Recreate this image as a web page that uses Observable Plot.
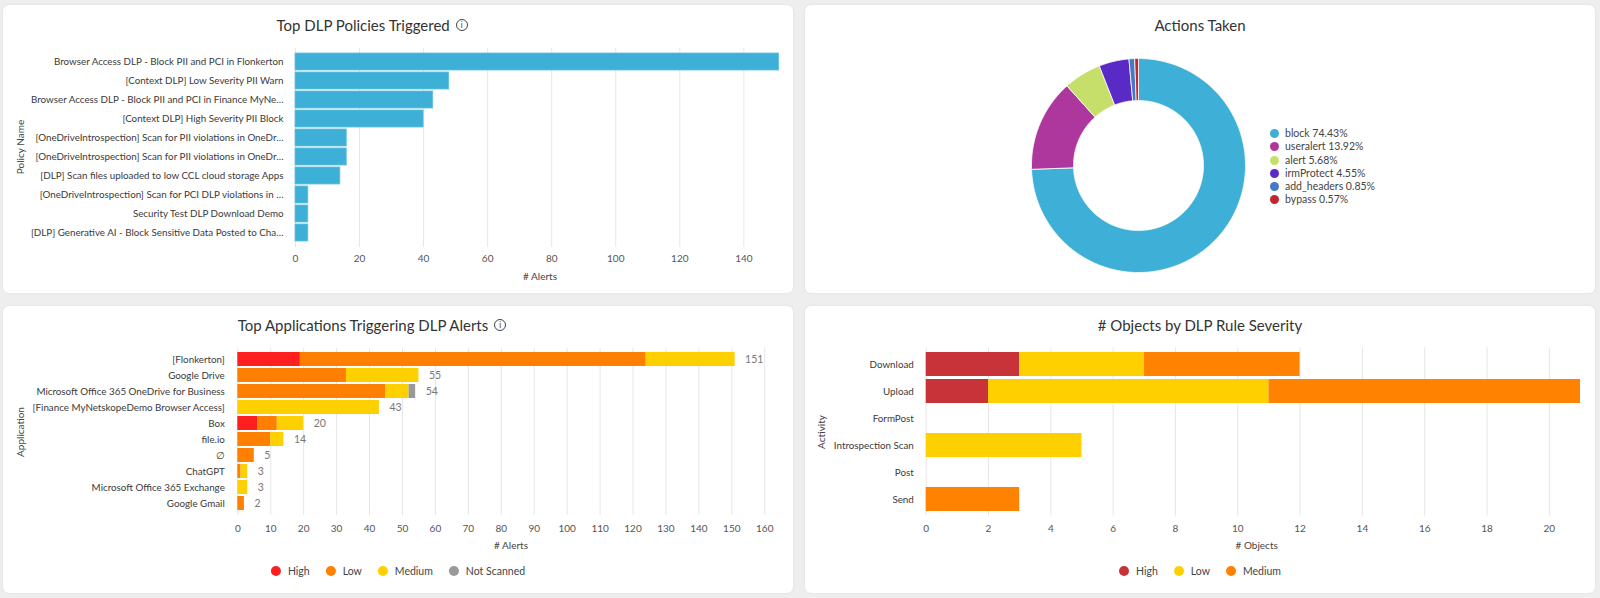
<!DOCTYPE html>
<html>
<head>
<meta charset="utf-8">
<script src="https://cdn.jsdelivr.net/npm/d3@7"></script>
<script src="https://cdn.jsdelivr.net/npm/@observablehq/plot@0.6"></script>
<style>
html,body{margin:0;padding:0}
body{width:1600px;height:598px;background:#eeeeee;position:relative;overflow:hidden;font-family:Lato,"Open Sans",sans-serif;color:#333}
.card{position:absolute;background:#fff;border-radius:6px;box-shadow:0 0 3px rgba(0,0,0,0.07)}
.abs{position:absolute;white-space:nowrap}
.title{font-size:15px;line-height:18px;color:#333;display:flex;align-items:center}
.info{display:inline-block;box-sizing:border-box;width:12px;height:12px;border:1.1px solid #444;border-radius:50%;font-size:8.5px;line-height:10px;text-align:center;margin-left:6px;color:#444;font-family:"DejaVu Sans",sans-serif}
.axlab{font-size:10px;color:#444}
.legend{display:flex;gap:16px;font-size:10.5px;color:#444;align-items:center}
.legend .item{display:flex;align-items:center}
.sw{display:inline-block;width:10px;height:10px;border-radius:50%;margin-right:7px}
.dleg{font-size:10.5px;color:#444;line-height:13.2px}
.dleg .row{display:flex;align-items:center;height:13.2px}
.dleg .sw{width:9px;height:9px;margin-right:6.5px}
svg{position:absolute}
</style>
</head>
<body>
<div class="card" style="left:3px;top:5px;width:790px;height:288px"></div>
<div class="card" style="left:805px;top:5px;width:790px;height:288px"></div>
<div class="card" style="left:3px;top:306px;width:790px;height:287px"></div>
<div class="card" style="left:805px;top:306px;width:790px;height:287px"></div>
<script>
// ---------------- DATA ----------------
const policyNames = [
  "Browser Access DLP - Block PII and PCI in Flonkerton",
  "[Context DLP] Low Severity PII Warn",
  "Browser Access DLP - Block PII and PCI in Finance MyNe…",
  "[Context DLP] High Severity PII Block",
  "[OneDriveIntrospection] Scan for PII violations in OneDr…",
  "[OneDriveIntrospection] Scan for PII violations in OneDr…",
  "[DLP] Scan files uploaded to low CCL cloud storage Apps",
  "[OneDriveIntrospection] Scan for PCI DLP violations in …",
  "Security Test DLP Download Demo",
  "[DLP] Generative AI - Block Sensitive Data Posted to Cha…"
];
const policyAlerts = [151, 48, 43, 40, 16, 16, 14, 4, 4, 4];
const policyTicks = [0, 20, 40, 60, 80, 100, 120, 140];

const actionNames = ["block", "useralert", "alert", "irmProtect", "add_headers", "bypass"];
const actionShares = [74.43, 13.92, 5.68, 4.55, 0.85, 0.57];
const actionColors = ["#3eafd6", "#ad379c", "#c6df6b", "#5a2ac6", "#4479c4", "#c4262f"];

const appNames = [
  "[Flonkerton]", "Google Drive", "Microsoft Office 365 OneDrive for Business",
  "[Finance MyNetskopeDemo Browser Access]", "Box", "file.io", "∅", "ChatGPT",
  "Microsoft Office 365 Exchange", "Google Gmail"
];
const appSeverities = ["High", "Low", "Medium", "Not Scanned"];
const appHigh       = [19, 0, 0, 0, 6, 0, 0, 0, 0, 0];
const appLow        = [105, 33, 45, 0, 6, 10, 5, 1, 0, 2];
const appMedium     = [27, 22, 7, 43, 8, 4, 0, 2, 3, 0];
const appNotScanned = [0, 0, 2, 0, 0, 0, 0, 0, 0, 0];
const appColors = ["#ff1f1f", "#ff8000", "#ffd000", "#999999"];
const appTicks = [0, 10, 20, 30, 40, 50, 60, 70, 80, 90, 100, 110, 120, 130, 140, 150, 160];

const activities = ["Download", "Upload", "FormPost", "Introspection Scan", "Post", "Send"];
const objSeverities = ["High", "Low", "Medium"];
const objHigh   = [3, 2, 0, 0, 0, 0];
const objLow    = [4, 9, 0, 5, 0, 0];
const objMedium = [5, 10, 0, 0, 0, 3];
const objColors = ["#c8333a", "#ffd000", "#ff8300"];
const objTicks = [0, 2, 4, 6, 8, 10, 12, 14, 16, 18, 20];

// ---------------- helpers ----------------
function addEl(html, cls, x, y, anchor) {
  const el = document.createElement("div");
  el.className = "abs " + (cls || "");
  el.innerHTML = html;
  el.style.left = x + "px";
  el.style.top = y + "px";
  el.style.transform = anchor === "l" ? "translate(0,-50%)"
    : anchor === "rot" ? "translate(-50%,-50%) rotate(-90deg)"
    : "translate(-50%,-50%)";
  document.body.appendChild(el);
  return el;
}
function placeSvg(svg, x, y) {
  svg.style.left = x + "px";
  svg.style.top = y + "px";
  document.body.appendChild(svg);
}
function legend(names, colors, cx, cy) {
  const html = names.map((n, i) =>
    `<span class="item"><span class="sw" style="background:${colors[i]}"></span>${n}</span>`).join("");
  addEl(html, "legend", cx, cy, "c");
}
const baseStyle = {fontFamily: "Lato, sans-serif", fontSize: "10px", color: "#555", background: "transparent", overflow: "visible"};

// ---------------- Chart 1: Top DLP Policies ----------------
{
  const rows = policyNames.map((n, i) => ({i, v: policyAlerts[i]}));
  const svg = Plot.plot({
    width: 790, height: 288,
    marginLeft: 292, marginRight: 8, marginTop: 43, marginBottom: 46,
    style: baseStyle,
    x: {domain: [0, 153]},
    y: {domain: d3.range(policyNames.length), padding: 0.1},
    marks: [
      Plot.gridX(policyTicks, {stroke: "#e6e6e6", strokeOpacity: 1}),
      Plot.barX(rows, {x: "v", y: "i", fill: "#3eafd6", stroke: "#62bfe0", strokeWidth: 0.8}),
      Plot.axisX({ticks: policyTicks, tickSize: 0, tickPadding: 7, label: null}),
      Plot.axisY({tickSize: 0, tickPadding: 12, label: null, fill: "#3a3a3a", fontSize: 9.8, tickFormat: i => policyNames[i]})
    ]
  });
  placeSvg(svg, 3, 5);
  addEl(`Top DLP Policies Triggered<span class="info">i</span>`, "title", 276.5, 25, "l");
  addEl("# Alerts", "axlab", 540, 276, "c");
  addEl("Policy Name", "axlab", 20, 147, "rot");
}

// ---------------- Chart 2: Actions Taken (donut) ----------------
{
  const R = 107, r = 65;
  const arcs = d3.pie().sort(null).value(d => d)(actionShares);
  const polys = arcs.map(p => {
    const pts = [];
    const n = Math.max(2, Math.ceil((p.endAngle - p.startAngle) / 0.01));
    for (let k = 0; k <= n; k++) {
      const a = p.startAngle + (p.endAngle - p.startAngle) * k / n;
      pts.push({x: R * Math.sin(a), y: -R * Math.cos(a)});
    }
    for (let k = n; k >= 0; k--) {
      const a = p.startAngle + (p.endAngle - p.startAngle) * k / n;
      pts.push({x: r * Math.sin(a), y: -r * Math.cos(a)});
    }
    pts.push(pts[0]);
    return pts;
  });
  const svg = Plot.plot({
    width: 240, height: 240, margin: 0,
    style: {background: "transparent", overflow: "visible"},
    x: {domain: [-120, 120], axis: null},
    y: {domain: [-120, 120], range: [0, 240], axis: null},
    marks: polys.map((pts, i) =>
      Plot.line(pts, {x: "x", y: "y", fill: actionColors[i], stroke: "#ffffff", strokeWidth: 0.8}))
  });
  placeSvg(svg, 1137.5 - 120, 165 - 120);
  addEl("Actions Taken", "title", 1200, 25, "c");
  const html = actionNames.map((n, i) =>
    `<div class="row"><span class="sw" style="background:${actionColors[i]}"></span>${n} ${actionShares[i].toFixed(2)}%</div>`).join("");
  const el = addEl(html, "dleg", 1269.5, 127.2, "l");
  el.style.transform = "none";
}

// ---------------- Chart 3: Top Applications ----------------
{
  const series = [appHigh, appLow, appMedium, appNotScanned];
  const rows = appNames.flatMap((a, i) => appSeverities.map((s, j) => ({app: a, sev: s, v: series[j][i]})));
  const totals = appNames.map((a, i) => ({app: a, t: series.reduce((s, arr) => s + arr[i], 0)}));
  const svg = Plot.plot({
    width: 790, height: 287,
    marginLeft: 234.3, marginRight: 8, marginTop: 41.6, marginBottom: 78,
    style: baseStyle,
    x: {domain: [0, 166.3]},
    y: {domain: appNames, padding: 0.1},
    color: {domain: appSeverities, range: appColors},
    marks: [
      Plot.gridX(appTicks, {stroke: "#e6e6e6", strokeOpacity: 1}),
      Plot.barX(rows, {x: "v", y: "app", fill: "sev", order: appSeverities}),
      Plot.text(totals, {x: "t", y: "app", text: d => String(d.t), dx: 10, textAnchor: "start", fill: "#777", fontSize: 10.5}),
      Plot.axisX({ticks: appTicks, tickSize: 0, tickPadding: 9, label: null}),
      Plot.axisY({tickSize: 0, tickPadding: 13, label: null, fill: "#3a3a3a", fontSize: 9.8})
    ]
  });
  placeSvg(svg, 3, 306);
  addEl(`Top Applications Triggering DLP Alerts<span class="info">i</span>`, "title", 237.7, 325, "l");
  addEl("# Alerts", "axlab", 511, 544.5, "c");
  addEl("Application", "axlab", 20, 431.7, "rot");
  legend(appSeverities, appColors, 398, 570.7);
}

// ---------------- Chart 4: # Objects by DLP Rule Severity ----------------
{
  const series = [objHigh, objLow, objMedium];
  const rows = activities.flatMap((a, i) => objSeverities.map((s, j) => ({act: a, sev: s, v: series[j][i]})));
  const svg = Plot.plot({
    width: 790, height: 287,
    marginLeft: 120.7, marginRight: 15, marginTop: 41.2, marginBottom: 77.5,
    style: baseStyle,
    x: {domain: [0, 21]},
    y: {domain: activities, padding: 0.1},
    color: {domain: objSeverities, range: objColors},
    marks: [
      Plot.gridX(objTicks, {stroke: "#e6e6e6", strokeOpacity: 1}),
      Plot.barX(rows, {x: "v", y: "act", fill: "sev", order: objSeverities}),
      Plot.axisX({ticks: objTicks, tickSize: 0, tickPadding: 8.5, label: null}),
      Plot.axisY({tickSize: 0, tickPadding: 12.4, label: null, fill: "#3a3a3a", fontSize: 9.8})
    ]
  });
  placeSvg(svg, 805, 306);
  addEl("# Objects by DLP Rule Severity", "title", 1200, 325, "c");
  addEl("# Objects", "axlab", 1256.7, 544.5, "c");
  addEl("Activity", "axlab", 820.7, 431.7, "rot");
  legend(objSeverities, objColors, 1200, 570.7);
}
</script>
</body>
</html>
